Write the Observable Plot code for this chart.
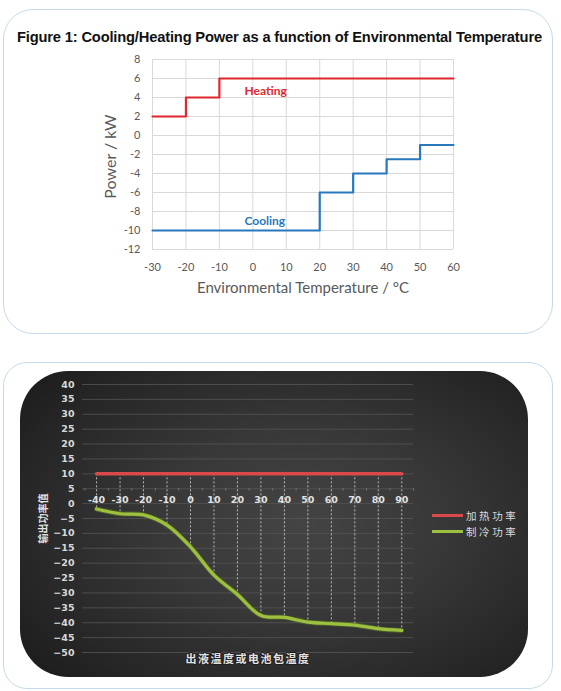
<!DOCTYPE html>
<html>
<head>
<meta charset="utf-8">
<script src="https://cdn.jsdelivr.net/npm/d3@7"></script>
<script src="https://cdn.jsdelivr.net/npm/@observablehq/plot@0.6"></script>
<style>
  html, body { margin: 0; padding: 0; background: #fff; }
  body { width: 561px; height: 691px; position: relative; overflow: hidden; }
  .panel { position: absolute; box-sizing: border-box; border: 1px solid #c6dae9; border-radius: 30px; background: #fff; }
  .abs { position: absolute; left: 0; top: 0; }
  #title { position: absolute; left: 17px; top: 30px; font: bold 14.7px "Liberation Sans Narrow", "Liberation Sans", sans-serif; letter-spacing: -0.17px; color: #111; white-space: nowrap; line-height: 14px; }
  #dark { position: absolute; left: 20px; top: 371px; width: 508px; height: 306px; border-radius: 48px;
          background: radial-gradient(ellipse 70% 75% at 55% 50%, #444 0%, #383838 40%, #262626 80%, #1c1c1c 100%); }
  .leg { position: absolute; display: flex; align-items: center; font: 10.5px "Noto Sans CJK SC", sans-serif; color: #dcdcdc; letter-spacing: 2.6px; }
  .leg i { display: inline-block; width: 31px; height: 3px; margin-right: 3px; }
</style>
</head>
<body>
<div class="panel" style="left:3px; top:9px; width:550px; height:325px;"></div>
<div id="title">Figure 1: Cooling/Heating Power as a function of Environmental Temperature</div>
<div id="topChart" class="abs"></div>

<div class="panel" style="left:3px; top:362px; width:550px; height:327px; border-radius:24px;"></div>
<div id="dark"></div>
<div id="bottomChart" class="abs" style="top:362px;"></div>
<div id="legend"></div>

<script>
// ---------- Figure 1 data ----------
const heatX = [-30, -20, -10, 60];
const heatY = [2, 4, 6, 6];
const coolX = [-30, 20, 30, 40, 50, 60];
const coolY = [-10, -6, -4, -2.5, -1, -1];
const topXTicks = [-30, -20, -10, 0, 10, 20, 30, 40, 50, 60];
const topYTicks = [-12, -10, -8, -6, -4, -2, 0, 2, 4, 6, 8];
const seriesLabels = ["Heating", "Cooling"];
const seriesLabelX = [-2.5, -2.5];
const seriesLabelY = [4.7, -9.0];
const topColors = ["#e0262f", "#2878be"];
const topXLabel = "Environmental Temperature / °C";
const topYLabel = "Power / kW";

// ---------- Bottom chart data ----------
const temps = [-40, -30, -20, -10, 0, 10, 20, 30, 40, 50, 60, 70, 80, 90];
const heatPower = [10, 10, 10, 10, 10, 10, 10, 10, 10, 10, 10, 10, 10, 10];
const coolPower = [-1.8, -3.4, -3.8, -7.2, -14.5, -24, -30.5, -37.6, -38.2, -39.8, -40.3, -40.8, -42, -42.6];
const botYTicks = [-50, -45, -40, -35, -30, -25, -20, -15, -10, -5, 0, 5, 10, 15, 20, 25, 30, 35, 40];
const legendNames = ["加热功率", "制冷功率"];
const botColors = ["#d9494a", "#9dc040"];
const botXLabel = "出液温度或电池包温度";
const botYLabel = "输出功率值";

const heatPts = heatX.map((x, i) => ({x, y: heatY[i]}));
const coolPts = coolX.map((x, i) => ({x, y: coolY[i]}));
const labelPts = seriesLabels.map((t, i) => ({t, x: seriesLabelX[i], y: seriesLabelY[i], c: topColors[i]}));

const chartTop = Plot.plot({
  width: 561, height: 340,
  marginLeft: 152, marginRight: 108, marginTop: 59, marginBottom: 91,
  style: {background: "transparent", fontFamily: "Lato, 'Open Sans', sans-serif", color: "#595959", overflow: "visible"},
  x: {domain: [-30, 60]},
  y: {domain: [-12, 8]},
  marks: [
    Plot.gridX(topXTicks, {stroke: "#d9d9d9", strokeOpacity: 1}),
    Plot.gridY(topYTicks, {stroke: "#d9d9d9", strokeOpacity: 1}),
    Plot.axisX(topXTicks, {tickSize: 0, tickPadding: 14, fontSize: 11, label: null, tickFormat: d => String(d)}),
    Plot.axisY(topYTicks, {tickSize: 0, tickPadding: 12, fontSize: 11, label: null, tickFormat: d => String(d)}),
    Plot.text([topXLabel], {frameAnchor: "bottom", dy: 39, fontSize: 15, fill: "#595959", lineAnchor: "middle"}),
    Plot.text([topYLabel], {frameAnchor: "left", rotate: -90, dx: -42, dy: 2, fontSize: 16, fill: "#595959", lineAnchor: "middle", textAnchor: "middle"}),
    Plot.line(heatPts, {x: "x", y: "y", curve: "step-after", stroke: topColors[0], strokeWidth: 2.2}),
    Plot.line(coolPts, {x: "x", y: "y", curve: "step-after", stroke: topColors[1], strokeWidth: 2.2}),
    Plot.text(labelPts, {x: "x", y: "y", text: "t", fill: "c", textAnchor: "start", fontSize: 12, fontWeight: "bold"})
  ]
});
document.getElementById("topChart").appendChild(chartTop);

const botRows = temps.map((t, i) => ({t, h: heatPower[i], c: coolPower[i]}));
const tickMarks = temps.map(t => t - 5).concat([temps[temps.length - 1] + 5]);

const chartBottom = Plot.plot({
  width: 561, height: 326,
  marginLeft: 82, marginRight: 148, marginTop: 22, marginBottom: 36,
  style: {background: "transparent", fontFamily: "'DejaVu Sans', sans-serif", color: "#d8d8d8", overflow: "visible"},
  x: {domain: [-46, 95]},
  y: {domain: [-50, 40]},
  marks: [
    Plot.gridY(botYTicks, {stroke: "#555", strokeOpacity: 1, strokeWidth: 0.8}),
    Plot.ruleX(tickMarks, {y1: 5, y2: 4.2, stroke: "#777"}),
    Plot.axisY(botYTicks, {tickSize: 0, tickPadding: 8, fontSize: 9.5, fontWeight: "bold", label: null, fill: "#d8d8d8"}),
    Plot.ruleX(botRows, {x: "t", y1: "h", y2: "c", stroke: "#c8c8c8", strokeDasharray: "2,2", strokeWidth: 0.9}),
    Plot.line(botRows, {x: "t", y: "h", stroke: botColors[0], strokeWidth: 3.5}),
    Plot.line(botRows, {x: "t", y: "c", curve: "catmull-rom", stroke: "#5d7a1f", strokeWidth: 5, strokeOpacity: 0.6}),
    Plot.line(botRows, {x: "t", y: "c", curve: "catmull-rom", stroke: botColors[1], strokeWidth: 3.2}),
    Plot.axisX(temps, {anchor: "bottom", tickSize: 0, tickPadding: 0, dy: -156, fontSize: 9.5, fontWeight: "bold", label: null,
      fill: "#e2e2e2", stroke: "#1e1e1e", strokeWidth: 2, paintOrder: "stroke", tickFormat: d => String(d)}),
    Plot.text([botXLabel], {frameAnchor: "bottom", dy: 7, fontSize: 11, fontWeight: "bold", fill: "#e2e2e2", lineAnchor: "middle",
      fontFamily: "'Noto Sans CJK SC', sans-serif", stroke: "#1e1e1e", strokeWidth: 2, paintOrder: "stroke"}),
    Plot.text([botYLabel], {frameAnchor: "left", rotate: -90, dx: -39, dy: 0, fontSize: 10, fontWeight: "bold", fill: "#e2e2e2",
      lineAnchor: "middle", textAnchor: "middle", fontFamily: "'Noto Sans CJK SC', sans-serif"})
  ]
});
document.getElementById("bottomChart").appendChild(chartBottom);
chartBottom.querySelectorAll("text").forEach(t => {
  if (t.textContent === botXLabel) t.setAttribute("letter-spacing", "1.5");
});

// legend
const legend = document.getElementById("legend");
legendNames.forEach((name, i) => {
  const d = document.createElement("div");
  d.className = "leg";
  d.style.left = "432px";
  d.style.top = (508 + i * 15.5) + "px";
  d.innerHTML = `<i style="background:${botColors[i]}"></i><span>${name}</span>`;
  legend.appendChild(d);
});
</script>
</body>
</html>
